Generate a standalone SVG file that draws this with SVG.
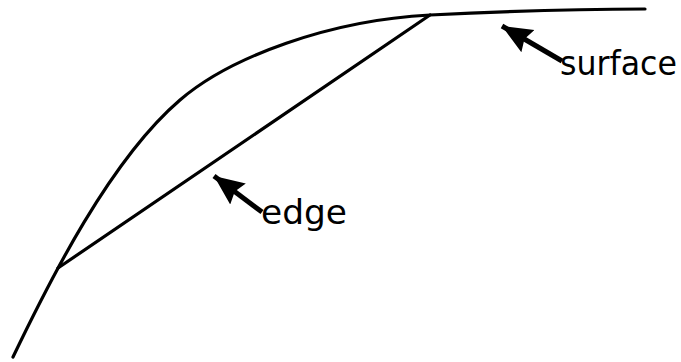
<svg xmlns="http://www.w3.org/2000/svg" width="681" height="362" viewBox="0 0 681 362">
  <defs>
    <style>
      .curve { fill: none; stroke: #000; stroke-width: 3.2; stroke-linecap: round; stroke-linejoin: round; }
      .ptr { fill: none; stroke: #000; stroke-width: 5; }
      .lbl { font-family: "DejaVu Sans", "Liberation Sans", sans-serif; font-size: 33px; fill: #000; }
    </style>
    <marker id="head" markerUnits="userSpaceOnUse" markerWidth="30" markerHeight="28" refX="30" refY="14" orient="auto-start-reverse" viewBox="0 0 30 28">
      <path d="M30,14 L0,1 L4,14 L0,27 Z" fill="#000"/>
    </marker>
  </defs>
  <rect width="681" height="362" fill="#fff"/>
  <g id="surface-curve">
    <path class="curve" d="M13,357 C50,280 110,160 180,100 C230,57 330,20 430,15 C500,11.5 580,9 645,9"/>
  </g>
  <g id="edge-chord">
    <path class="curve" d="M58,268 L430,15"/>
  </g>
  <g id="connectors">
    <path class="ptr" d="M502,26 L562,61" marker-start="url(#head)"/>
    <path class="ptr" d="M214,176 L262,212" marker-start="url(#head)"/>
  </g>
  <g id="label-surface">
    <text class="lbl" x="560" y="75" textLength="117" lengthAdjust="spacingAndGlyphs">surface</text>
  </g>
  <g id="label-edge">
    <text class="lbl" x="261" y="224" textLength="86" lengthAdjust="spacingAndGlyphs">edge</text>
  </g>
</svg>
